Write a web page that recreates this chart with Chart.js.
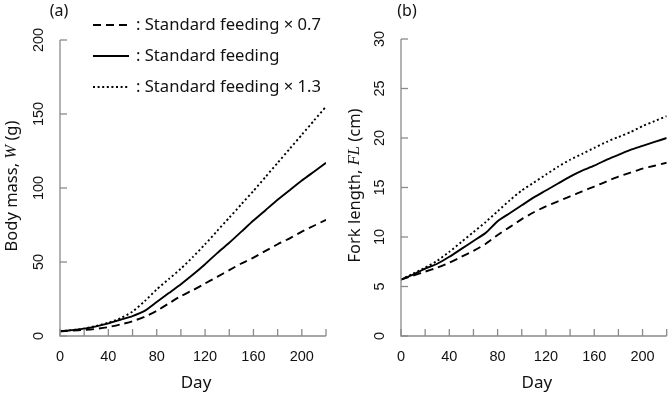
<!DOCTYPE html>
<html>
<head>
<meta charset="utf-8">
<script src="https://cdn.jsdelivr.net/npm/chart.js@4/dist/chart.umd.min.js"></script>
<style>
html,body{margin:0;padding:0;background:#fff;}
#wrap{position:relative;width:669px;height:395px;overflow:hidden;}
canvas{position:absolute;top:0;}
</style>
</head>
<body>
<div id="wrap">
<canvas id="ca" width="335" height="395" style="left:0px"></canvas>
<canvas id="cb" width="334" height="395" style="left:335px"></canvas>
</div>
<script>
// ---- data ----
const days = [0,10,20,30,40,50,60,70,80,90,100,110,120,130,140,150,160,170,180,190,200,210,220];
// Body mass W (g)
const massLow  = [3.2,3.6,4.1,4.8,6.0,7.8,10.0,13.0,17.0,22.0,27.0,31.0,35.5,40.0,44.5,49.0,53.0,57.5,62.0,66.0,70.5,74.5,78.5];
const massStd  = [3.2,4.0,5.0,6.5,8.5,11.0,13.5,17.0,23.0,29.0,35.0,41.5,48.5,56.0,63.0,70.5,78.0,85.0,92.0,98.5,105.0,111.0,117.0];
const massHigh = [3.2,4.0,5.0,6.8,9.0,12.0,16.5,23.5,31.5,38.5,45.5,53.5,62.0,71.0,80.0,89.0,98.0,107.5,117.0,126.5,136.0,145.5,155.0];
// Fork length FL (cm)
const flLow  = [5.7,6.1,6.5,6.9,7.4,8.0,8.6,9.3,10.2,11.0,11.8,12.5,13.1,13.6,14.1,14.6,15.1,15.6,16.1,16.5,16.9,17.2,17.5];
const flStd  = [5.7,6.2,6.8,7.3,8.0,8.8,9.6,10.4,11.6,12.4,13.2,14.0,14.7,15.4,16.1,16.7,17.2,17.8,18.3,18.8,19.2,19.6,20.0];
const flHigh = [5.7,6.3,6.9,7.6,8.5,9.5,10.5,11.5,12.6,13.7,14.7,15.5,16.3,17.1,17.8,18.4,19.0,19.6,20.1,20.6,21.2,21.7,22.2];
const xTicks = [0,20,40,60,80,100,120,140,160,180,200,220];
const xTickLabels = [0,40,80,120,160,200];
const massTicks = [0,50,100,150,200];
const flTicks = [0,5,10,15,20,25,30];
const legendLabels = [': Standard feeding \u00d7 0.7', ': Standard feeding', ': Standard feeding \u00d7 1.3'];

const DASH_LOW = [8,5], DASH_STD = [], DASH_HIGH = [2,2.6];
const AXIS_COL = '#8a8a8a';
const SANS = '"Noto Sans", "Open Sans", sans-serif';
const TICKF = '14.5px "Liberation Sans", Arial, sans-serif';

function toXY(ys){ return days.map((d,i)=>({x:d,y:ys[i]})); }

function makePlugin(cfg){
  return {
    id:'custom'+cfg.id,
    afterDraw(chart){
      const ctx = chart.ctx, xs = chart.scales.x, ys = chart.scales.y;
      ctx.save();
      // axis lines
      ctx.strokeStyle = AXIS_COL; ctx.lineWidth = 1.3; ctx.setLineDash([]);
      ctx.beginPath();
      ctx.moveTo(xs.getPixelForValue(0), ys.getPixelForValue(cfg.yTicks[cfg.yTicks.length-1]));
      ctx.lineTo(xs.getPixelForValue(0), ys.getPixelForValue(0));
      ctx.lineTo(xs.getPixelForValue(220), ys.getPixelForValue(0));
      ctx.stroke();
      // x ticks (inward)
      const y0 = ys.getPixelForValue(0);
      xTicks.forEach(t=>{
        const px = xs.getPixelForValue(t);
        ctx.beginPath(); ctx.moveTo(px,y0); ctx.lineTo(px,y0-7); ctx.stroke();
      });
      const x0 = xs.getPixelForValue(0);
      cfg.yTicks.forEach(t=>{
        const py = ys.getPixelForValue(t);
        ctx.beginPath(); ctx.moveTo(x0,py); ctx.lineTo(x0+7,py); ctx.stroke();
      });
      // x tick labels
      ctx.fillStyle = '#111'; ctx.font = TICKF; ctx.textAlign='center'; ctx.textBaseline='middle';
      xTickLabels.forEach(t=>{ ctx.fillText(String(t), xs.getPixelForValue(t), y0+21); });
      // y tick labels rotated
      cfg.yTicks.forEach(t=>{
        const py = ys.getPixelForValue(t);
        ctx.save(); ctx.translate(x0-21, py); ctx.rotate(-Math.PI/2);
        ctx.fillText(String(t), 0, 0); ctx.restore();
      });
      // x title
      ctx.font = '17px ' + SANS; ctx.fillStyle='#111';
      ctx.fillText('Day', (xs.getPixelForValue(0)+xs.getPixelForValue(220))/2 + 3, y0+47);
      // y title with italic part
      const parts = [
        {t:cfg.yTitle[0], f:'16.5px ' + SANS},
        {t:cfg.yTitle[1], f:'italic 16.5px "Liberation Serif", "DejaVu Serif", serif'},
        {t:cfg.yTitle[2], f:'16.5px ' + SANS}
      ];
      let total = 0;
      parts.forEach(p=>{ ctx.font=p.f; p.w = ctx.measureText(p.t).width; total += p.w; });
      const cy = (ys.getPixelForValue(0)+ys.getPixelForValue(cfg.yTicks[cfg.yTicks.length-1]))/2 - 2;
      ctx.save(); ctx.translate(cfg.titleX, cy); ctx.rotate(-Math.PI/2);
      ctx.textAlign='left';
      let cx = -total/2;
      parts.forEach(p=>{ ctx.font=p.f; ctx.fillText(p.t, cx, 0); cx += p.w; });
      ctx.restore();
      // panel label
      ctx.font = '16px ' + SANS; ctx.textAlign='center';
      ctx.fillText(cfg.panel, cfg.panelX, 11);
      // legend
      if(cfg.legend){
        const dashes = [DASH_LOW, DASH_STD, DASH_HIGH];
        const ly = [25, 56, 87];
        legendLabels.forEach((lab,i)=>{
          ctx.strokeStyle='#000'; ctx.lineWidth=2; ctx.setLineDash(dashes[i]);
          ctx.beginPath(); ctx.moveTo(93, ly[i]); ctx.lineTo(129, ly[i]); ctx.stroke();
          ctx.setLineDash([]);
          ctx.font = '16.6px ' + SANS; ctx.textAlign='left'; ctx.fillStyle='#111';
          ctx.fillText(lab, 136, ly[i]);
        });
      }
      ctx.restore();
    }
  };
}

function makeChart(id, series, yMax, padding, plugin){
  return new Chart(document.getElementById(id), {
    type:'line',
    data:{ datasets:[
      {data:toXY(series[0]), borderColor:'#000', borderWidth:1.9, borderDash:DASH_LOW, pointRadius:0, tension:0.2},
      {data:toXY(series[1]), borderColor:'#000', borderWidth:1.9, borderDash:DASH_STD, pointRadius:0, tension:0.2},
      {data:toXY(series[2]), borderColor:'#000', borderWidth:1.9, borderDash:DASH_HIGH, pointRadius:0, tension:0.2}
    ]},
    options:{
      responsive:false, animation:false, events:[],
      layout:{padding:padding},
      plugins:{legend:{display:false}, tooltip:{enabled:false}},
      scales:{
        x:{type:'linear', min:0, max:220, display:false},
        y:{type:'linear', min:0, max:yMax, display:false}
      }
    },
    plugins:[plugin]
  });
}

makeChart('ca', [massLow, massStd, massHigh], 200, {left:60, right:9, top:40, bottom:59},
  makePlugin({id:'a', yTicks:massTicks, yTitle:['Body mass, ','W',' (g)'], titleX:12, panel:'(a)', panelX:59, legend:true}));
makeChart('cb', [flLow, flStd, flHigh], 30, {left:66, right:2.3, top:39, bottom:59},
  makePlugin({id:'b', yTicks:flTicks, yTitle:['Fork length, ','FL',' (cm)'], titleX:20, panel:'(b)', panelX:72, legend:false}));
</script>
</body>
</html>
